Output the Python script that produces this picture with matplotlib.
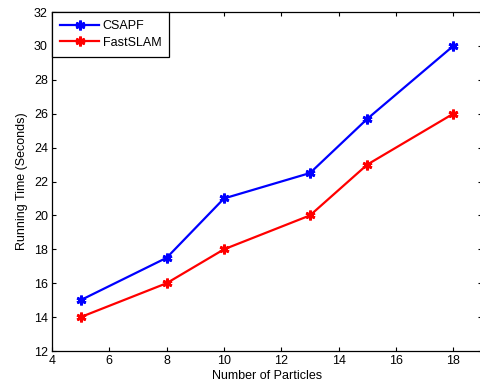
import numpy as np
import matplotlib
matplotlib.use('Agg')
import matplotlib.pyplot as plt

# data
particles = [5, 8, 10, 13, 15, 18]
csapf = [15, 17.5, 21, 22.5, 25.7, 30]
fastslam = [14, 16, 18, 20, 23, 26]

plt.rcParams['font.family'] = ['Liberation Sans', 'DejaVu Sans']
plt.rcParams['font.size'] = 9

fig = plt.figure(figsize=(4.81, 3.90), dpi=100)
ax = fig.add_axes([52/481, 39/390, 430/481, 339/390])

ast = (6, 2, 0)
ax.plot(particles, csapf, color='#0000ff', lw=1.6, marker=ast, ms=7, mew=2,
        label='CSAPF')
ax.plot(particles, fastslam, color='#ff0000', lw=1.6, marker=ast, ms=7, mew=2,
        label='FastSLAM')

ax.set_xlim(4, 19)
ax.set_ylim(12, 32)
ax.set_xticks(np.arange(4, 19, 2))
ax.set_yticks(np.arange(12, 33, 2))
ax.tick_params(direction='in', length=3, width=0.8, top=True, right=True,
               pad=3, colors='black', labelsize=9)
for s in ax.spines.values():
    s.set_linewidth(0.9)
    s.set_color('black')

ax.set_xlabel('Number of Particles', labelpad=2)
ax.set_ylabel('Running Time (Seconds)', labelpad=4)

leg = ax.legend(loc='upper left', bbox_to_anchor=(0, 1), borderaxespad=0,
                fancybox=False, edgecolor='black', framealpha=1,
                handlelength=3.1, handletextpad=0.3, borderpad=0.65,
                labelspacing=0.35)
leg.get_frame().set_linewidth(0.9)

fig.savefig('out.png', dpi=100)
